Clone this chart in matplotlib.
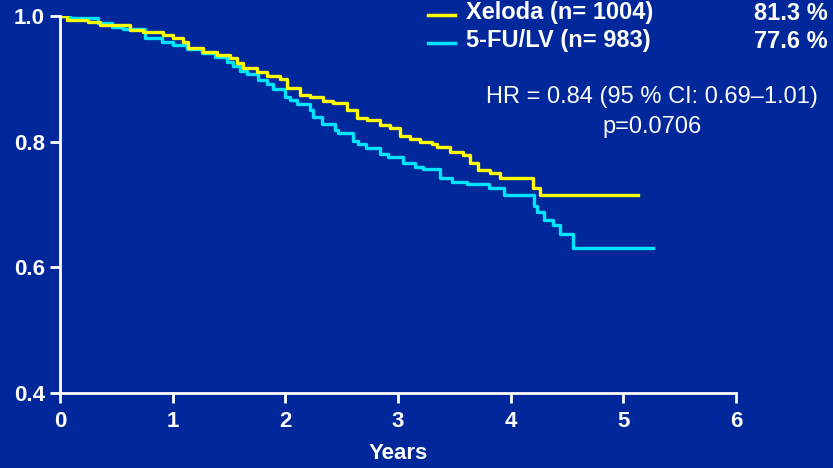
import matplotlib.pyplot as plt
from matplotlib.lines import Line2D

# Kaplan-Meier step data (years, survival)
xeloda_t = [0.0, 0.062, 0.249, 0.355, 0.621, 0.737, 0.914, 1.003, 1.092, 1.136,
            1.269, 1.393, 1.509, 1.571, 1.624, 1.748, 1.837, 1.953, 2.015, 2.130,
            2.219, 2.334, 2.423, 2.547, 2.636, 2.725, 2.840, 2.929, 3.018, 3.106,
            3.195, 3.302, 3.346, 3.461, 3.577, 3.639, 3.710, 3.816, 3.905, 4.198,
            4.260, 5.130]
xeloda_s = [1.000, 0.994, 0.991, 0.986, 0.978, 0.975, 0.970, 0.965, 0.959, 0.949,
            0.943, 0.938, 0.933, 0.925, 0.917, 0.911, 0.905, 0.900, 0.885, 0.874,
            0.871, 0.864, 0.861, 0.850, 0.838, 0.834, 0.827, 0.822, 0.809, 0.804,
            0.799, 0.796, 0.792, 0.784, 0.779, 0.766, 0.755, 0.750, 0.742, 0.726,
            0.715, 0.715]

fu_t = [0.0, 0.089, 0.337, 0.462, 0.559, 0.754, 0.905, 1.003, 1.127, 1.260,
        1.376, 1.482, 1.535, 1.598, 1.660, 1.757, 1.837, 1.890, 1.997, 2.041,
        2.103, 2.219, 2.245, 2.325, 2.441, 2.467, 2.600, 2.645, 2.716, 2.840,
        2.911, 3.044, 3.151, 3.222, 3.373, 3.479, 3.612, 3.808, 3.941, 4.207,
        4.234, 4.296, 4.376, 4.438, 4.553, 5.263]
fu_s = [1.000, 0.997, 0.989, 0.982, 0.979, 0.965, 0.959, 0.954, 0.947, 0.941,
        0.935, 0.927, 0.920, 0.912, 0.908, 0.898, 0.892, 0.884, 0.871, 0.866,
        0.860, 0.850, 0.839, 0.828, 0.819, 0.814, 0.801, 0.796, 0.790, 0.780,
        0.776, 0.766, 0.760, 0.756, 0.742, 0.736, 0.733, 0.726, 0.715, 0.698,
        0.688, 0.675, 0.667, 0.653, 0.631, 0.631]

labels = ['Xeloda (n= 1004)', '5-FU/LV (n= 983)']
rates = ['81.3 %', '77.6 %']
hr_text = 'HR = 0.84 (95 % CI: 0.69\u20131.01)'
p_text = 'p=0.0706'

bg = '#00289b'
yellow = '#ffff00'
cyan = '#00e5ff'

plt.rcParams['font.family'] = ['Liberation Sans', 'DejaVu Sans']

fig = plt.figure(figsize=(8.33, 4.68), dpi=100, facecolor=bg)
ax = fig.add_axes([0.072, 0.1603, 0.8116, 0.8055])
ax.set_facecolor(bg)

ax.step(fu_t, fu_s, where='post', color=cyan, lw=2.4)
ax.step(xeloda_t, xeloda_s, where='post', color=yellow, lw=2.4)

ax.set_xlim(0, 6)
ax.set_ylim(0.4, 1.0)
ax.set_xticks(range(7))
ax.set_yticks([0.4, 0.6, 0.8, 1.0])
ax.set_yticklabels(['0.4', '0.6', '0.8', '1.0'])
for s in ['top', 'right']:
    ax.spines[s].set_visible(False)
for s in ['left', 'bottom']:
    ax.spines[s].set_color('white')
    ax.spines[s].set_linewidth(2)
ax.tick_params(colors='white', width=2, length=7, labelsize=16)
ax.tick_params(axis='x', pad=6)
ax.tick_params(axis='y', pad=4)
for lab in ax.get_xticklabels() + ax.get_yticklabels():
    lab.set_fontweight('bold')
ax.set_xlabel('Years', color='white', fontsize=16, fontweight='bold', labelpad=8)

# legend drawn by hand in figure coordinates
W, H = 833, 468
for i, (lab, rate, col) in enumerate(zip(labels, rates, [yellow, cyan])):
    y = 1 - (13 + 28 * i) / H
    fig.add_artist(Line2D([428 / W, 455 / W], [y - 2 / H, y - 2 / H], color=col, lw=2.5))
    fig.text(466 / W, y, lab, color='white', fontsize=17, fontweight='bold', va='center')
    fig.text(828 / W, y, rate, color='white', fontsize=17, fontweight='bold',
             va='center', ha='right')

fig.text(652 / W, 1 - 97 / H, hr_text, color='white', fontsize=17, ha='center', va='center')
fig.text(652 / W, 1 - 127 / H, p_text, color='white', fontsize=17, ha='center', va='center')

fig.savefig('out.png', dpi=100, facecolor=bg)
